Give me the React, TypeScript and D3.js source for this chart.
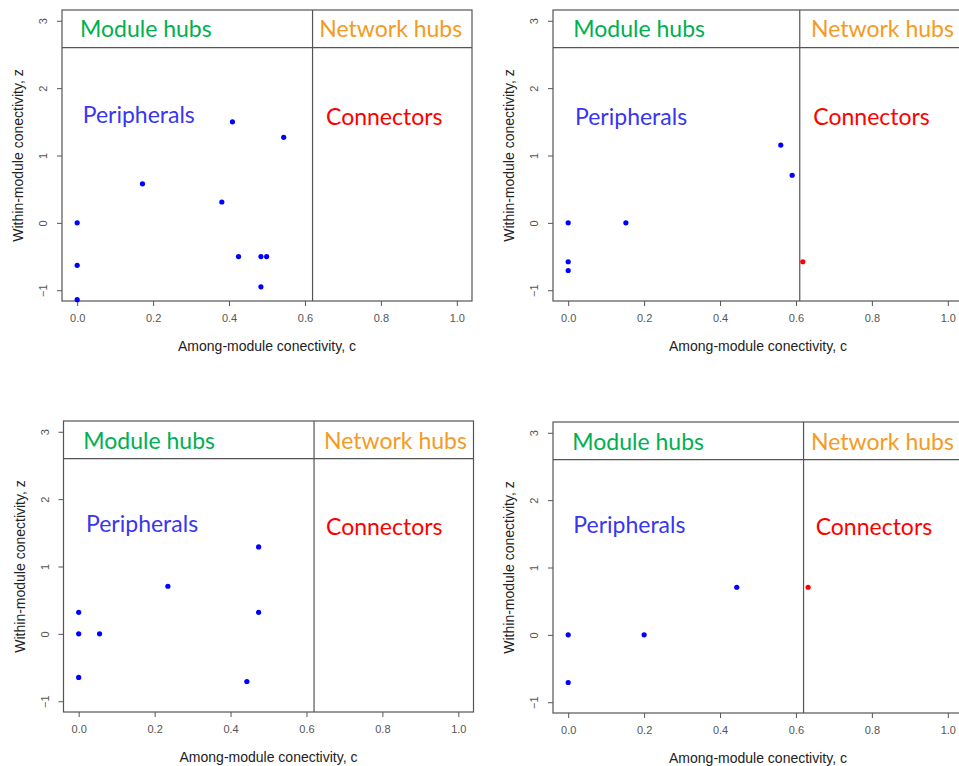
import React, { useEffect, useRef } from "react";
import * as d3 from "d3";

// among-module connectivity (c) and within-module connectivity (z), one pair per panel
const cA = [0.409, 0.544, 0.172, 0.381, 0, 0.425, 0.484, 0.499, 0, 0.484, 0];
const zA = [1.5, 1.27, 0.58, 0.31, 0, -0.5, -0.5, -0.5, -0.63, -0.95, -1.14];
const cB = [0.56, 0.59, 0, 0.152, 0, 0, 0.618];
const zB = [1.155, 0.707, 0, 0, -0.577, -0.707, -0.577];
const cC = [0.474, 0.235, 0, 0.474, 0, 0.055, 0, 0.443];
const zC = [1.29, 0.707, 0.32, 0.32, 0, 0, -0.646, -0.707];
const cD = [0.444, 0.632, 0, 0.2, 0];
const zD = [0.707, 0.707, 0, 0, -0.707];

const cValues = [cA, cB, cC, cD];
const zValues = [zA, zB, zC, zD];

const cThresholds = [0.62, 0.61, 0.62, 0.62];
const zThreshold = 2.6;

const xTicks = [0, 0.2, 0.4, 0.6, 0.8, 1];
const yTicks = [-1, 0, 1, 2, 3];

const regionNames = ["Module hubs", "Network hubs", "Peripherals", "Connectors"];
const regionColors = ["#00b050", "#f59a23", "#3a35f0", "#ff0000"];

const xLabel = "Among-module conectivity, c";
const yLabel = "Within-module conectivity, z";

// plot frames (R's box), 4% padding round xlim [0,1] and ylim [-1,3]
const frames = [
  { x: 62, y: 10 },
  { x: 553, y: 10 },
  { x: 63.5, y: 421 },
  { x: 553, y: 422 },
];
const frameW = 410;
const frameH = 291;

// region label offsets inside each frame: [x, baseline]
const labelPos = [
  [[18, 26.7], [257.3, 26.7], [20.7, 113.3], [264, 115.3]],
  [[20.3, 27], [258, 27], [22, 115], [260.3, 115.3]],
  [[19.8, 28.3], [260.5, 28.3], [22.5, 110.7], [262.5, 114]],
  [[19.3, 28], [258, 28], [20.3, 110.7], [262.7, 113]],
];

const W = 959;
const H = 766;
const lineColor = "#555";

export default function App() {
  const ref = useRef<SVGSVGElement>(null);

  useEffect(() => {
    const svg = d3.select(ref.current);
    svg.selectAll("*").remove();

    frames.forEach((f, i) => {
      const x = d3.scaleLinear().domain([-0.04, 1.04]).range([f.x, f.x + frameW]);
      const y = d3.scaleLinear().domain([-1.16, 3.16]).range([f.y + frameH, f.y]);
      const g = svg.append("g");

      // x axis
      const gx = g.append("g")
        .attr("transform", `translate(0,${f.y + frameH})`)
        .call(d3.axisBottom(x).tickValues(xTicks).tickFormat(d3.format(".1f")).tickSize(5).tickPadding(8));
      gx.select(".domain").remove();
      gx.selectAll("line").attr("stroke", lineColor);
      gx.selectAll("text")
        .attr("fill", "#555")
        .attr("font-family", "Liberation Sans, Arial, sans-serif")
        .attr("font-size", 11);

      // y axis, labels parallel to the axis like R
      const gy = g.append("g")
        .attr("transform", `translate(${f.x},0)`)
        .call(d3.axisLeft(y).tickValues(yTicks).tickFormat(d3.format("d")).tickSize(5));
      gy.select(".domain").remove();
      gy.selectAll("line").attr("stroke", lineColor);
      gy.selectAll("text")
        .attr("x", null)
        .attr("dy", null)
        .attr("text-anchor", "middle")
        .attr("transform", "translate(-15,0) rotate(-90)")
        .attr("fill", "#555")
        .attr("font-family", "Liberation Sans, Arial, sans-serif")
        .attr("font-size", 11);

      // box
      g.append("rect")
        .attr("x", f.x).attr("y", f.y)
        .attr("width", frameW).attr("height", frameH)
        .attr("fill", "none")
        .attr("stroke", lineColor)
        .attr("stroke-width", 1.2);

      // thresholds
      g.append("line")
        .attr("x1", f.x).attr("x2", f.x + frameW)
        .attr("y1", y(zThreshold)).attr("y2", y(zThreshold))
        .attr("stroke", lineColor).attr("stroke-width", 1.2);
      g.append("line")
        .attr("x1", x(cThresholds[i])).attr("x2", x(cThresholds[i]))
        .attr("y1", f.y).attr("y2", f.y + frameH)
        .attr("stroke", lineColor).attr("stroke-width", 1.2);

      // axis titles
      g.append("text")
        .attr("x", f.x + frameW / 2)
        .attr("y", f.y + frameH + 49.5)
        .attr("text-anchor", "middle")
        .attr("fill", "#222")
        .attr("font-family", "Liberation Sans, Arial, sans-serif")
        .attr("font-size", 14)
        .text(xLabel);
      g.append("text")
        .attr("transform", `translate(${f.x - 39},${f.y + frameH / 2}) rotate(-90)`)
        .attr("text-anchor", "middle")
        .attr("fill", "#222")
        .attr("font-family", "Liberation Sans, Arial, sans-serif")
        .attr("font-size", 14)
        .text(yLabel);

      // region names
      g.selectAll("text.region")
        .data(regionNames)
        .join("text")
        .attr("class", "region")
        .attr("x", (d, j) => f.x + labelPos[i][j][0])
        .attr("y", (d, j) => f.y + labelPos[i][j][1])
        .attr("fill", (d, j) => regionColors[j])
        .attr("font-family", "Lato, Open Sans, sans-serif")
        .attr("font-size", 23)
        .text((d) => d);

      // points
      const pts = cValues[i].map((c, k) => ({ c, z: zValues[i][k] }));
      g.append("g")
        .selectAll("circle")
        .data(pts)
        .join("circle")
        .attr("cx", (d) => x(d.c))
        .attr("cy", (d) => y(d.z))
        .attr("r", 2.6)
        .attr("fill", (d) => (d.c > cThresholds[i] ? "#ff0000" : "#0000ff"));
    });
  });

  return (
    <svg
      ref={ref}
      width={W}
      height={H}
      viewBox={`0 0 ${W} ${H}`}
      style={{ position: "absolute", left: 0, top: 0, background: "#fff" }}
    ></svg>
  );
}
